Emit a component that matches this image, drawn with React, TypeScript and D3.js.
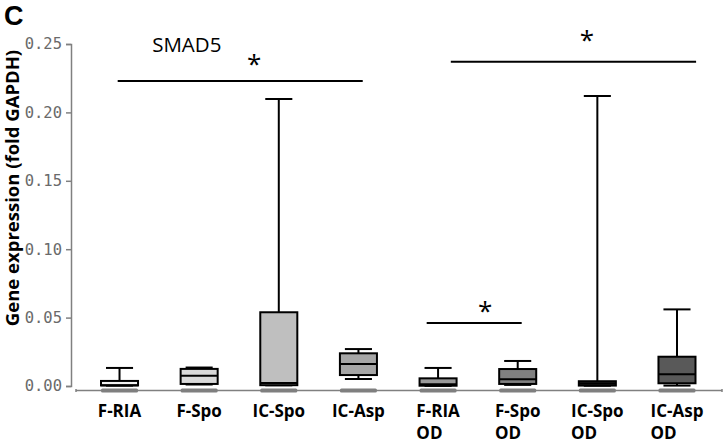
import React, { useRef, useEffect } from "react";
import * as d3 from "d3";

// categories (two label lines each)
const categories = ["F-RIA", "F-Spo", "IC-Spo", "IC-Asp", "F-RIA OD", "F-Spo OD", "IC-Spo OD", "IC-Asp OD"];
const labelLine1 = ["F-RIA", "F-Spo", "IC-Spo", "IC-Asp", "F-RIA", "F-Spo", "IC-Spo", "IC-Asp"];
const labelLine2 = ["", "", "", "", "OD", "OD", "OD", "OD"];

// box plot values (fold GAPDH)
const whiskerLow = [0.0003, 0.0011, 0.0005, 0.0051, 0.0001, 0.0008, 0.0002, 0.0003];
const q1 = [0.0004, 0.0015, 0.0006, 0.008, 0.0002, 0.0015, 0.0003, 0.002];
const median = [0.0006, 0.0075, 0.0022, 0.0161, 0.0012, 0.005, 0.0018, 0.0086];
const q3 = [0.0037, 0.0125, 0.0539, 0.0239, 0.0056, 0.0124, 0.0035, 0.0214];
const whiskerHigh = [0.0132, 0.0135, 0.2098, 0.027, 0.0132, 0.0183, 0.212, 0.056];

const yTicks = [0, 0.05, 0.1, 0.15, 0.2, 0.25];

// significance brackets: from / to in category index units, y in data units
const sigFrom = [-0.023, 4.16, 3.857];
const sigTo = [3.054, 7.24, 5.05];
const sigY = [0.223, 0.237, 0.046];
const starX = [1.69, 5.87, 4.59];
const starY = [0.2392, 0.2566, 0.0585];

const boxFills = ["#f2f2f2", "#d9d9d9", "#bfbfbf", "#a6a6a6", "#9a9a9a", "#808080", "#262626", "#595959"];

const App = () => {
    const ref = useRef<SVGSVGElement>(null);

    useEffect(() => {
        const svgWidth = 726;
        const svgHeight = 445;
        const axisX = 71;
        const fontFamily = "'Open Sans', 'DejaVu Sans', sans-serif";

        const svg = d3.select(ref.current)
            .attr("width", svgWidth)
            .attr("height", svgHeight);
        svg.selectAll("*").remove();

        const yScale = d3.scaleLinear().domain([0, 0.25]).range([386, 44]);
        const xScale = d3.scaleBand().domain(categories).range([79.7, 716.8]).padding(0);
        const bw = xScale.bandwidth();
        const center = (i: number) => (xScale(categories[i]) as number) + bw / 2;
        const xIdx = d3.scaleLinear().domain([0, 7]).range([center(0), center(7)]);
        const boxW = bw * 0.465;
        const capW = bw * 0.34;
        const baselineY = yScale(0) + 4.5;

        // panel letter
        svg.append("text")
            .attr("x", 4).attr("y", 25)
            .style("font-family", "'Liberation Sans', Arial, sans-serif").style("font-weight", "bold")
            .style("font-size", "27px").style("fill", "#000")
            .text("C");

        // y axis
        const yAxis = svg.append("g")
            .attr("transform", `translate(${axisX},0)`)
            .call(d3.axisLeft(yScale).tickValues(yTicks).tickFormat(d3.format(".2f")).tickSize(5).tickPadding(4));
        yAxis.select(".domain").attr("stroke", "#808080").attr("stroke-width", 1.5);
        yAxis.selectAll(".tick line").attr("stroke", "#808080").attr("stroke-width", 1.5);
        yAxis.selectAll(".tick text")
            .style("font-family", "'DejaVu Sans Mono', monospace")
            .style("font-size", "15.5px")
            .style("fill", "#6a6a6a");

        // y label
        svg.append("text")
            .attr("transform", `translate(19, ${(yScale(0.25) + yScale(0)) / 2 - 27}) rotate(-90)`)
            .attr("text-anchor", "middle")
            .style("font-family", fontFamily).style("font-weight", "bold")
            .style("font-size", "18.5px").style("fill", "#000")
            .text("Gene expression (fold GAPDH)");

        // baseline
        svg.append("line")
            .attr("x1", 76).attr("x2", 722)
            .attr("y1", baselineY).attr("y2", baselineY)
            .attr("stroke", "#808080").attr("stroke-width", 1.5);
        [76, 722].forEach(x => svg.append("line")
            .attr("x1", x).attr("x2", x)
            .attr("y1", baselineY - 1.5).attr("y2", baselineY + 1.5)
            .attr("stroke", "#808080").attr("stroke-width", 1.5));

        // gray base bars
        svg.selectAll(".basebar").data(categories).join("rect")
            .attr("class", "basebar")
            .attr("x", (d, i) => center(i) - boxW / 2)
            .attr("y", baselineY - 2)
            .attr("width", boxW).attr("height", 4)
            .attr("rx", 1.5)
            .attr("fill", "#7f7f7f");

        // boxes
        const g = svg.selectAll(".box").data(categories).join("g").attr("class", "box");
        g.append("line")
            .attr("x1", (d, i) => center(i)).attr("x2", (d, i) => center(i))
            .attr("y1", (d, i) => yScale(whiskerHigh[i])).attr("y2", (d, i) => yScale(whiskerLow[i]))
            .attr("stroke", "#000").attr("stroke-width", 2);
        g.append("line")
            .attr("x1", (d, i) => center(i) - capW / 2).attr("x2", (d, i) => center(i) + capW / 2)
            .attr("y1", (d, i) => yScale(whiskerHigh[i])).attr("y2", (d, i) => yScale(whiskerHigh[i]))
            .attr("stroke", "#000").attr("stroke-width", 2);
        g.append("line")
            .attr("x1", (d, i) => center(i) - capW / 2).attr("x2", (d, i) => center(i) + capW / 2)
            .attr("y1", (d, i) => yScale(whiskerLow[i])).attr("y2", (d, i) => yScale(whiskerLow[i]))
            .attr("stroke", "#000").attr("stroke-width", 2);
        g.append("rect")
            .attr("x", (d, i) => center(i) - boxW / 2)
            .attr("y", (d, i) => yScale(q3[i]))
            .attr("width", boxW)
            .attr("height", (d, i) => yScale(q1[i]) - yScale(q3[i]))
            .attr("fill", (d, i) => boxFills[i])
            .attr("stroke", "#000").attr("stroke-width", 2);
        g.append("line")
            .attr("x1", (d, i) => center(i) - boxW / 2).attr("x2", (d, i) => center(i) + boxW / 2)
            .attr("y1", (d, i) => yScale(median[i])).attr("y2", (d, i) => yScale(median[i]))
            .attr("stroke", "#000").attr("stroke-width", 2);

        // category labels
        const labels = svg.selectAll(".cat").data(categories).join("g").attr("class", "cat");
        labels.each(function (d, i) {
            const lg = d3.select(this);
            const t1 = lg.append("text")
                .attr("x", center(i)).attr("y", 417)
                .attr("text-anchor", "middle")
                .style("font-family", fontFamily).style("font-weight", "bold")
                .style("font-size", "17px").style("fill", "#000")
                .text(labelLine1[i]);
            if (labelLine2[i]) {
                const bb = (t1.node() as SVGTextElement).getBBox();
                lg.append("text")
                    .attr("x", bb.x).attr("y", 439)
                    .style("font-family", fontFamily).style("font-weight", "bold")
                    .style("font-size", "17px").style("fill", "#000")
                    .text(labelLine2[i]);
            }
        });

        // SMAD5 title
        svg.append("text")
            .attr("x", xIdx(0.41)).attr("y", yScale(0.244))
            .style("font-family", fontFamily)
            .style("font-size", "20.5px").style("fill", "#000")
            .text("SMAD5");

        // significance brackets
        sigY.forEach((v, i) => {
            svg.append("line")
                .attr("x1", xIdx(sigFrom[i])).attr("x2", xIdx(sigTo[i]))
                .attr("y1", yScale(v)).attr("y2", yScale(v))
                .attr("stroke", "#000").attr("stroke-width", 2);
            svg.append("text")
                .attr("x", xIdx(starX[i])).attr("y", yScale(starY[i]) + 14.5)
                .attr("text-anchor", "middle")
                .style("font-family", fontFamily)
                .style("font-size", "26px").style("fill", "#000")
                .text("*");
        });
    }, []);

    return (
        <div style={{ position: "absolute", left: 0, top: 0 }}>
            <svg ref={ref}></svg>
        </div>
    );
};

export default App;
